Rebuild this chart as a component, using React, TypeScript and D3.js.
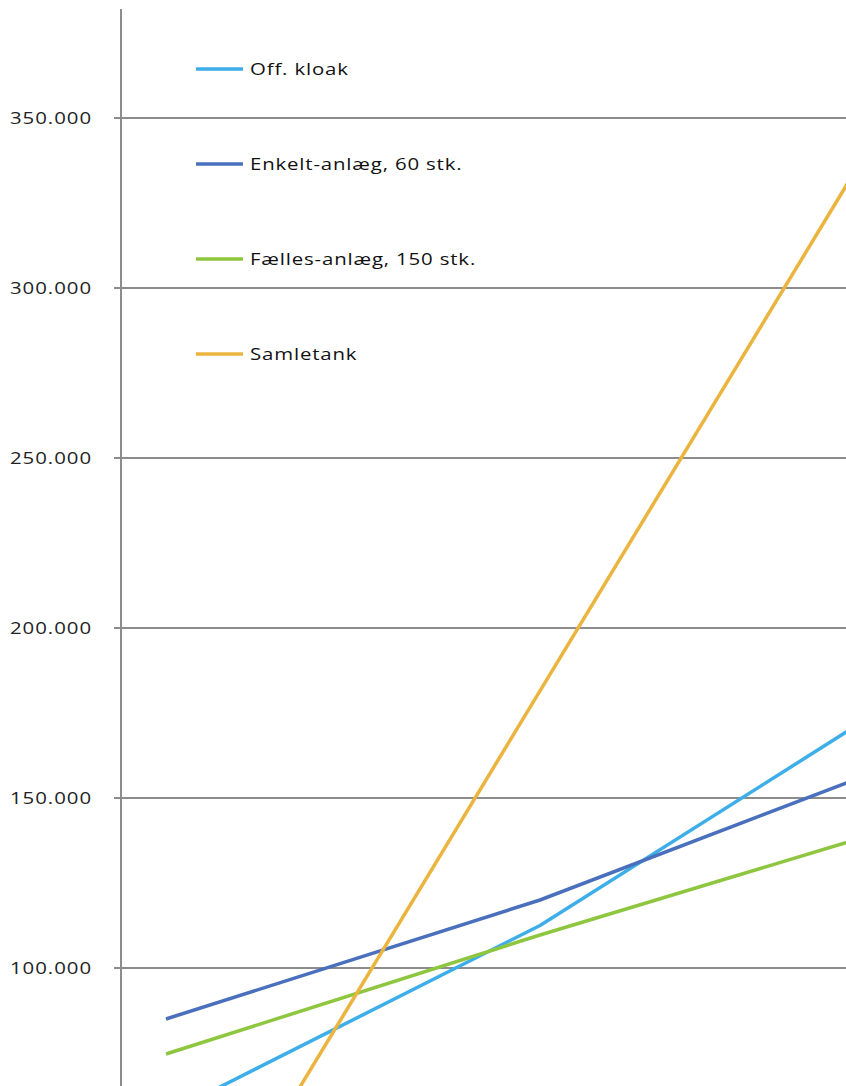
import React from "react";
import * as d3 from "d3";

// Years after establishment (x) and accumulated cost in kr. (y) per solution
const years = [0, 10, 20];
const offKloak = [57000, 112500, 182000];
const enkeltAnlaeg = [85000, 120000, 162000];
const faellesAnlaeg = [74700, 109700, 142900];
const samletank = [0, 181500, 363000];

const seriesNames = ["Off. kloak", "Enkelt-anlæg, 60 stk.", "Fælles-anlæg, 150 stk.", "Samletank"];
const seriesValues = [offKloak, enkeltAnlaeg, faellesAnlaeg, samletank];
const seriesColors = ["#3eaee8", "#4a70bd", "#8ec640", "#ebb43e"];

const yTicks = [100000, 150000, 200000, 250000, 300000, 350000];

const W = 846;
const H = 1086;

export default function App() {
  const x = d3.scaleLinear().domain([0, 10]).range([166, 540]);
  const y = d3.scaleLinear().domain([100000, 350000]).range([968, 118]);
  const axisX = 121;

  const fmt = (v: number) => d3.format(",")(v).replace(/,/g, ".");

  const line = d3
    .line<number>()
    .x((_, i) => x(years[i]))
    .y((d) => y(d));

  const labelFont = "'Open Sans', 'Liberation Sans', sans-serif";
  const stretch = 1.2;

  return (
    <svg
      width={W}
      height={H}
      style={{ position: "absolute", left: 0, top: 0, background: "#fff" }}
    >
      <defs>
        <clipPath id="plot">
          <rect x={axisX} y={0} width={W - axisX} height={H} />
        </clipPath>
      </defs>

      {/* horizontal gridlines with small outer ticks */}
      {yTicks.map((t) => (
        <g key={t}>
          <line x1={114} x2={W} y1={y(t)} y2={y(t)} stroke="#8c8c8c" strokeWidth={2} />
          <g transform={`translate(92,${y(t)}) scale(${stretch},1)`}>
            <text
              dy="0.36em"
              textAnchor="end"
              fontFamily={labelFont}
              fontSize={17}
              letterSpacing={0.8}
              fill="#222"
            >
              {fmt(t)}
            </text>
          </g>
        </g>
      ))}

      {/* vertical value axis */}
      <line x1={axisX} x2={axisX} y1={9} y2={H} stroke="#8c8c8c" strokeWidth={2} />

      {/* cost lines */}
      <g clipPath="url(#plot)">
        {seriesValues.map((vals, i) => (
          <path
            key={seriesNames[i]}
            d={line(vals) || ""}
            fill="none"
            stroke={seriesColors[i]}
            strokeWidth={3.5}
            strokeLinejoin="round"
          />
        ))}
      </g>

      {/* legend */}
      {seriesNames.map((name, i) => {
        const cy = 69 + i * 95;
        return (
          <g key={name}>
            <line x1={196} x2={243} y1={cy} y2={cy} stroke={seriesColors[i]} strokeWidth={3.5} />
            <g transform={`translate(250,${cy}) scale(${stretch},1)`}>
              <text
                dy="0.36em"
                fontFamily={labelFont}
                fontSize={17}
                letterSpacing={0.7}
                fill="#111"
              >
                {name}
              </text>
            </g>
          </g>
        );
      })}
    </svg>
  );
}
